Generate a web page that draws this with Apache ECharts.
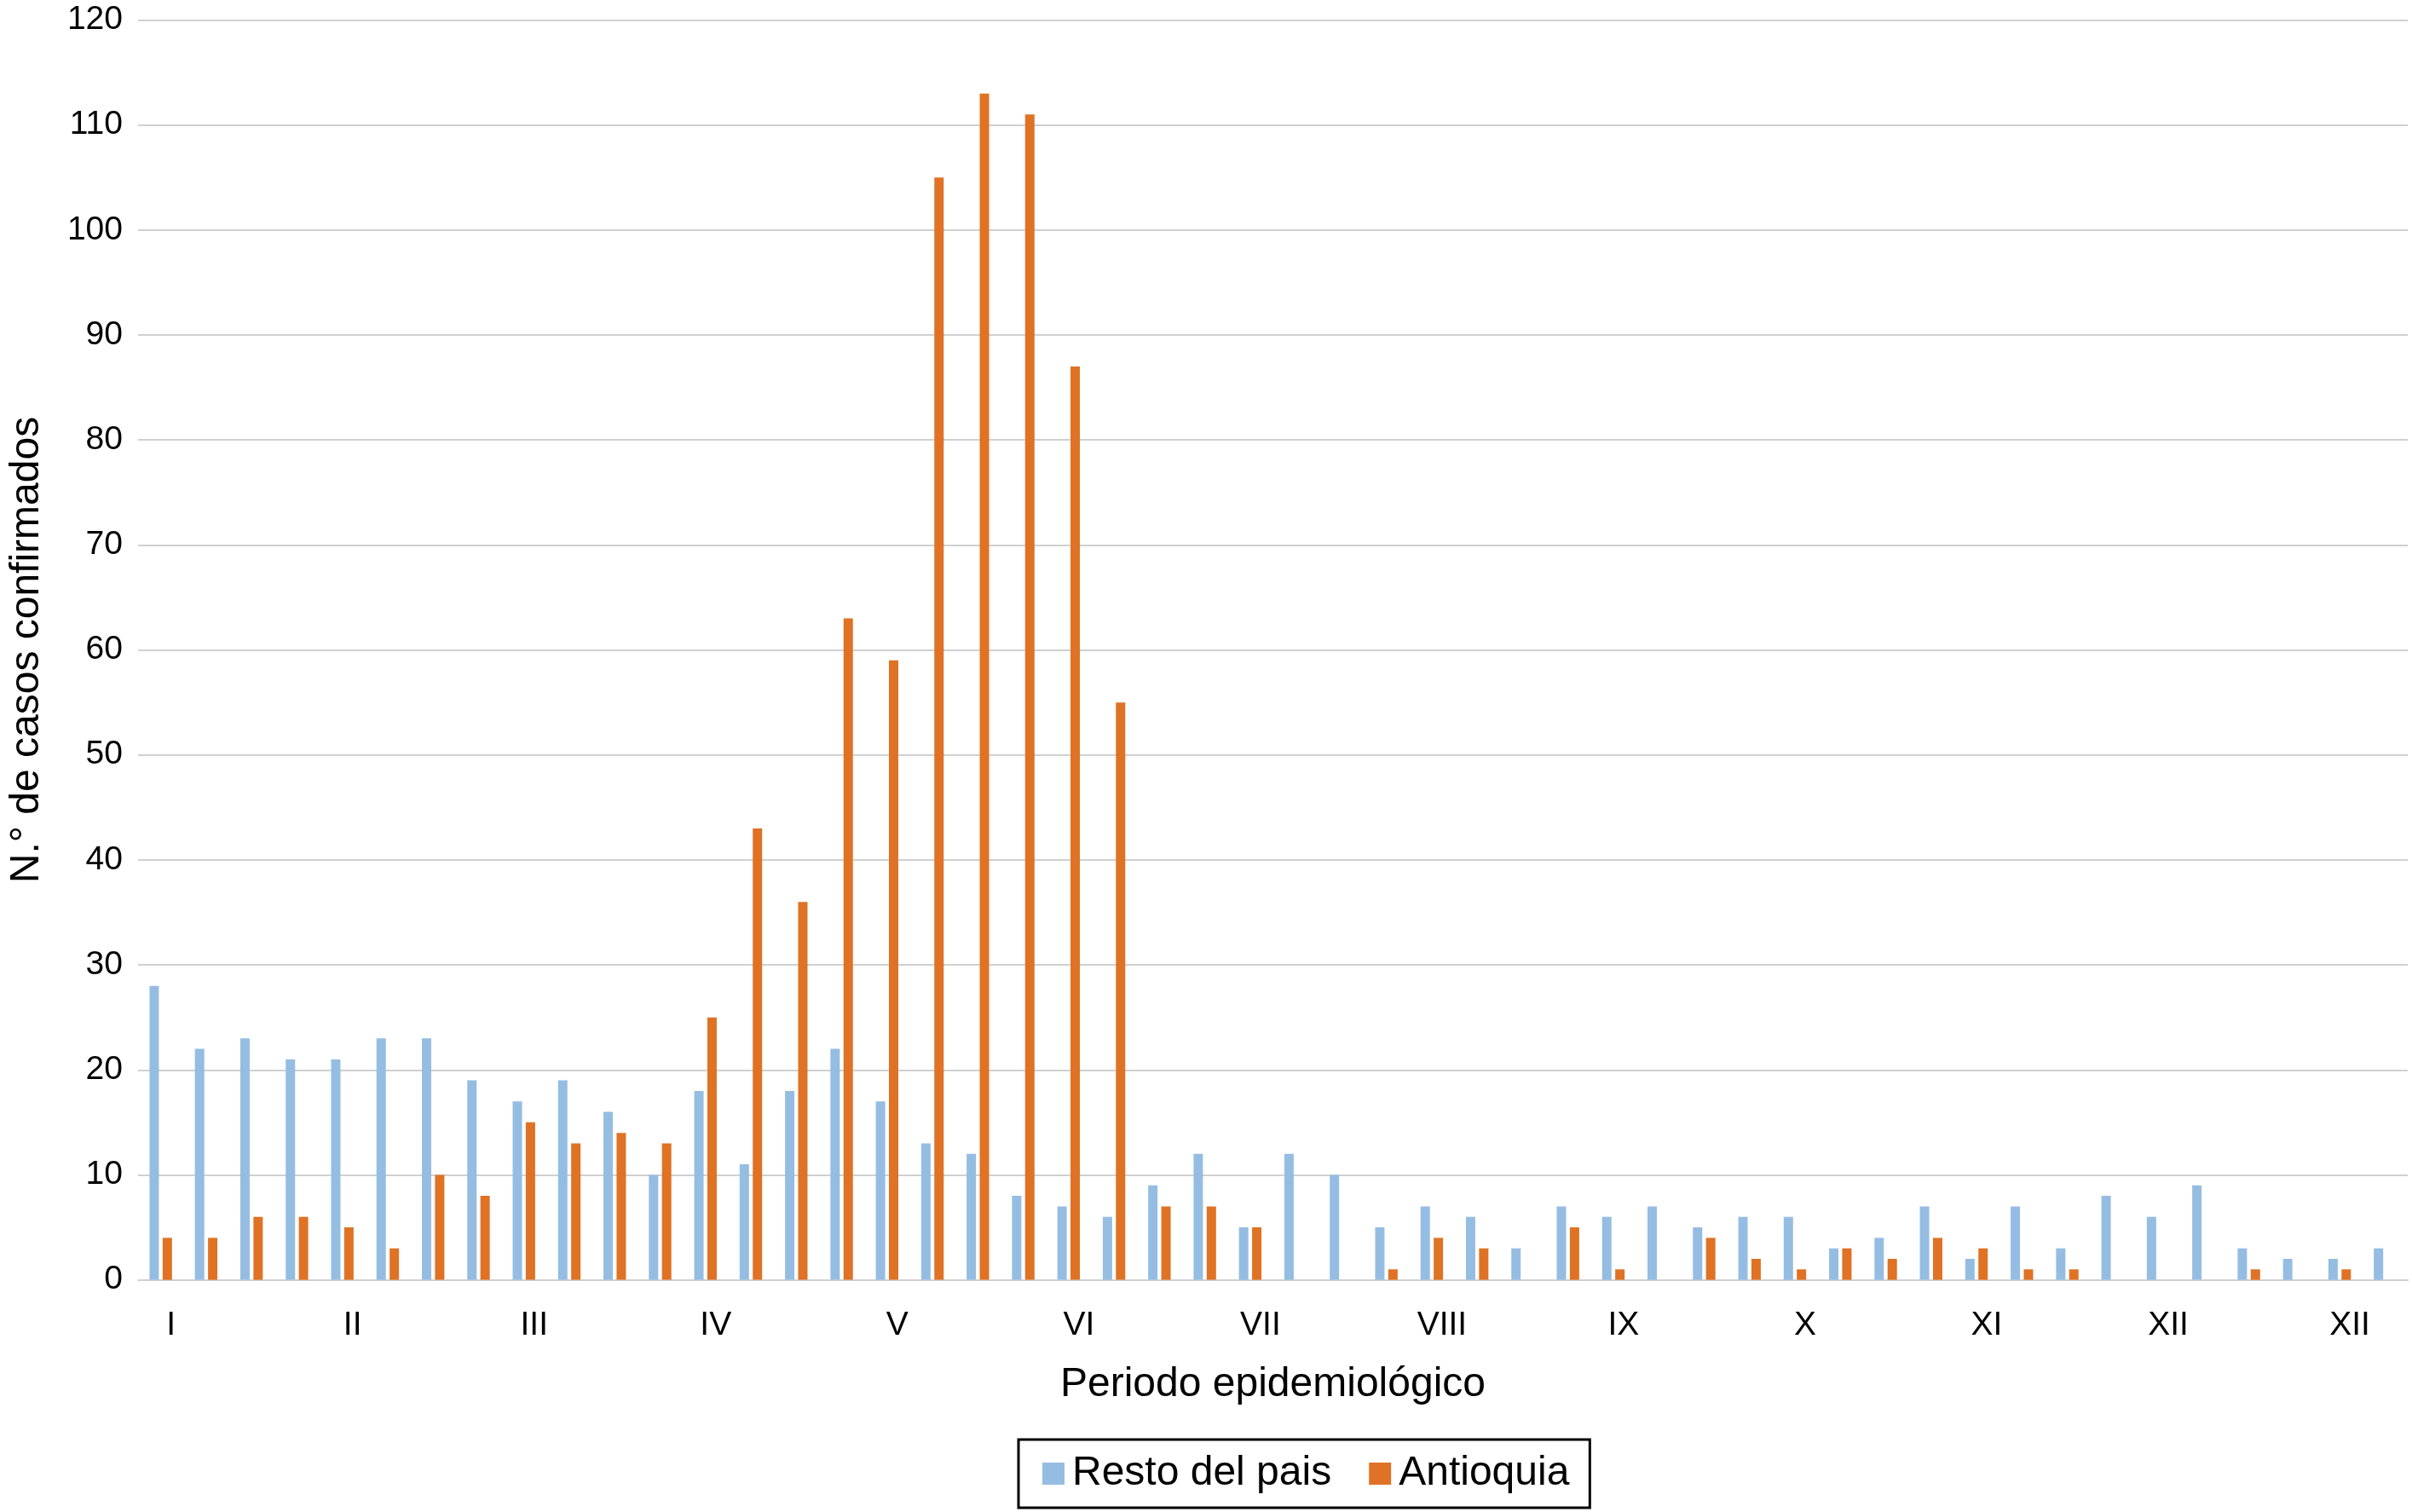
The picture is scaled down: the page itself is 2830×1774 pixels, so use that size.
<!DOCTYPE html>
<html>
<head>
<meta charset="utf-8">
<script src="https://cdn.jsdelivr.net/npm/echarts@6/dist/echarts.min.js"></script>
<style>
html, body { margin: 0; padding: 0; background: #ffffff; }
#chart { width: 2830px; height: 1774px; }
</style>
</head>
<body>
<div id="chart"></div>
<script>
// Epidemiological weeks (categories)
const weeks = [1,2,3,4,5,6,7,8,9,10,11,12,13,14,15,16,17,18,19,20,21,22,23,24,25,26,27,28,29,30,31,32,33,34,35,36,37,38,39,40,41,42,43,44,45,46,47,48,49,50];
// Period tick labels (one every 4 weeks)
const periodLabels = ['I','II','III','IV','V','VI','VII','VIII','IX','X','XI','XII','XII'];
// Series values
const restoDelPais = [28,22,23,21,21,23,23,19,17,19,16,10,18,11,18,22,17,13,12,8,7,6,9,12,5,12,10,5,7,6,3,7,6,7,5,6,6,3,4,7,2,7,3,8,6,9,3,2,2,3];
const antioquia = [4,4,6,6,5,3,10,8,15,13,14,13,25,43,36,63,59,105,113,111,87,55,7,7,5,0,0,1,4,3,0,5,1,0,4,2,1,3,2,4,3,1,1,0,0,0,1,0,1,0];
// Y axis ticks
const yMin = 0, yMax = 120, yStep = 10;

const FONT = '"Liberation Sans", Arial, Helvetica, sans-serif';
const chart = echarts.init(document.getElementById('chart'), null, { renderer: 'canvas' });

chart.setOption({
  backgroundColor: '#ffffff',
  animation: false,
  textStyle: { fontFamily: FONT, color: '#000' },
  grid: { left: 154, right: 5, top: 23.5, bottom: 272.4, containLabel: false },
  legend: {
    left: 1195, top: 1689,
    orient: 'horizontal',
    data: ['Resto del pais', 'Antioquia'],
    icon: 'rect',
    itemWidth: 26, itemHeight: 26,
    itemGap: 44,
    padding: [16, 24, 16, 28],
    borderColor: '#000', borderWidth: 3,
    textStyle: { fontFamily: FONT, fontSize: 48, color: '#000', padding: [0, 0, 0, 4] }
  },
  xAxis: {
    type: 'category',
    data: weeks,
    name: 'Periodo epidemiológico',
    nameLocation: 'middle',
    nameGap: 99,
    nameTextStyle: { fontFamily: FONT, fontSize: 48, color: '#000' },
    axisLine: { show: true, lineStyle: { color: '#d0d0d0', width: 2 } },
    axisTick: { show: false },
    axisLabel: {
      interval: 0,
      margin: 34,
      fontFamily: FONT, fontSize: 39, color: '#000',
      padding: [0, 0, 0, 24],
      formatter: function (v, idx) { return idx % 4 === 0 ? periodLabels[idx / 4] : ''; }
    },
    splitLine: { show: false }
  },
  yAxis: {
    type: 'value',
    min: yMin, max: yMax, interval: yStep,
    name: 'N.° de casos confirmados',
    nameLocation: 'middle',
    nameGap: 106,
    nameRotate: 90,
    nameTextStyle: { fontFamily: FONT, fontSize: 48, color: '#000' },
    axisLine: { show: false },
    axisTick: { show: false },
    axisLabel: { margin: 18, fontFamily: FONT, fontSize: 39, color: '#000' },
    splitLine: { show: true, lineStyle: { color: '#d0d0d0', width: 2 } }
  },
  series: [
    {
      name: 'Resto del pais', type: 'bar', data: restoDelPais,
      barWidth: 11, barGap: '40%',
      itemStyle: { color: '#95bde2' }
    },
    {
      name: 'Antioquia', type: 'bar', data: antioquia,
      barWidth: 11, barGap: '40%',
      itemStyle: { color: '#df7225' }
    }
  ]
});
</script>
</body>
</html>
